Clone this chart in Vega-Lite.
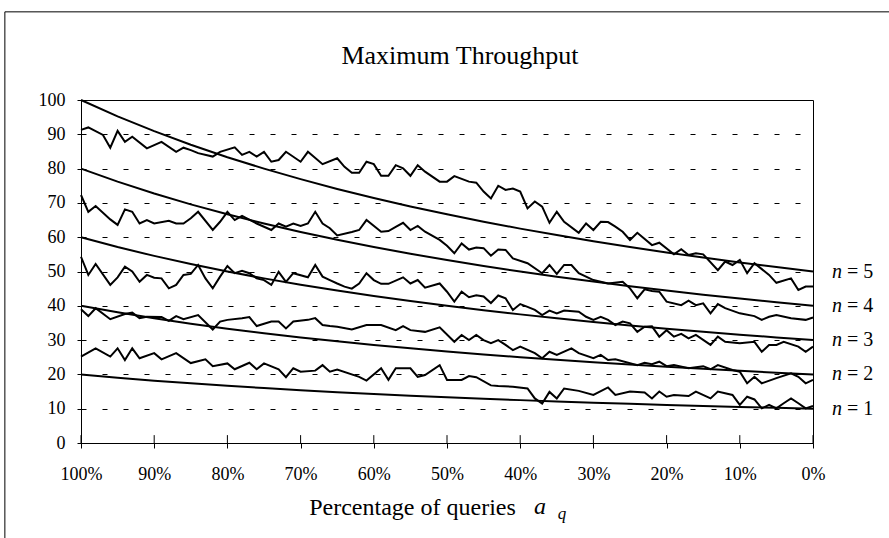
{
  "$schema": "https://vega.github.io/schema/vega-lite/v6.json",
  "width": 732,
  "height": 343,
  "autosize": {"type": "none"},
  "padding": {"left": 81, "top": 100, "right": 76, "bottom": 95},
  "background": "white",
  "config": {
    "font": "Liberation Serif",
    "view": {"stroke": "black", "strokeWidth": 1},
    "axis": {"domainColor": "black", "tickColor": "black", "labelColor": "black", "titleColor": "black", "labelFont": "Liberation Serif", "titleFont": "Liberation Serif", "domainWidth": 1, "tickWidth": 1, "labelFontSize": 18, "labelFlush": false, "labelOverlap": false},
    "axisX": {"grid": false, "tickSize": 5, "labelPadding": 17, "titleFontSize": 24, "titleFontWeight": "normal", "titleX": 331, "titleY": 71, "titleBaseline": "alphabetic", "titleAlign": "center"},
    "axisY": {"grid": true, "gridDash": [5, 16], "gridColor": "black", "gridWidth": 1, "gridOpacity": 1, "tickSize": 4, "labelPadding": 12}
  },
  "title": {"text": "Maximum Throughput", "font": "Liberation Serif", "fontSize": 26, "fontWeight": "normal", "color": "black", "anchor": "middle", "baseline": "alphabetic", "offset": -51, "dx": 13, "dy": 28},
  "datasets": {
    "smooth": [
      {"n":1,"p":100,"v":20},{"n":1,"p":95,"v":19.05},{"n":1,"p":90,"v":18.18},{"n":1,"p":85,"v":17.39},{"n":1,"p":80,"v":16.67},{"n":1,"p":75,"v":16},{"n":1,"p":70,"v":15.38},{"n":1,"p":65,"v":14.81},{"n":1,"p":60,"v":14.29},{"n":1,"p":55,"v":13.79},{"n":1,"p":50,"v":13.33},{"n":1,"p":45,"v":12.9},{"n":1,"p":40,"v":12.5},{"n":1,"p":35,"v":12.12},{"n":1,"p":30,"v":11.76},{"n":1,"p":25,"v":11.43},{"n":1,"p":20,"v":11.11},{"n":1,"p":15,"v":10.81},{"n":1,"p":10,"v":10.53},{"n":1,"p":5,"v":10.26},{"n":1,"p":0,"v":10},
      {"n":2,"p":100,"v":40},{"n":2,"p":95,"v":38.1},{"n":2,"p":90,"v":36.36},{"n":2,"p":85,"v":34.78},{"n":2,"p":80,"v":33.33},{"n":2,"p":75,"v":32},{"n":2,"p":70,"v":30.77},{"n":2,"p":65,"v":29.63},{"n":2,"p":60,"v":28.57},{"n":2,"p":55,"v":27.59},{"n":2,"p":50,"v":26.67},{"n":2,"p":45,"v":25.81},{"n":2,"p":40,"v":25},{"n":2,"p":35,"v":24.24},{"n":2,"p":30,"v":23.53},{"n":2,"p":25,"v":22.86},{"n":2,"p":20,"v":22.22},{"n":2,"p":15,"v":21.62},{"n":2,"p":10,"v":21.05},{"n":2,"p":5,"v":20.51},{"n":2,"p":0,"v":20},
      {"n":3,"p":100,"v":60},{"n":3,"p":95,"v":57.14},{"n":3,"p":90,"v":54.55},{"n":3,"p":85,"v":52.17},{"n":3,"p":80,"v":50},{"n":3,"p":75,"v":48},{"n":3,"p":70,"v":46.15},{"n":3,"p":65,"v":44.44},{"n":3,"p":60,"v":42.86},{"n":3,"p":55,"v":41.38},{"n":3,"p":50,"v":40},{"n":3,"p":45,"v":38.71},{"n":3,"p":40,"v":37.5},{"n":3,"p":35,"v":36.36},{"n":3,"p":30,"v":35.29},{"n":3,"p":25,"v":34.29},{"n":3,"p":20,"v":33.33},{"n":3,"p":15,"v":32.43},{"n":3,"p":10,"v":31.58},{"n":3,"p":5,"v":30.77},{"n":3,"p":0,"v":30},
      {"n":4,"p":100,"v":80},{"n":4,"p":95,"v":76.19},{"n":4,"p":90,"v":72.73},{"n":4,"p":85,"v":69.57},{"n":4,"p":80,"v":66.67},{"n":4,"p":75,"v":64},{"n":4,"p":70,"v":61.54},{"n":4,"p":65,"v":59.26},{"n":4,"p":60,"v":57.14},{"n":4,"p":55,"v":55.17},{"n":4,"p":50,"v":53.33},{"n":4,"p":45,"v":51.61},{"n":4,"p":40,"v":50},{"n":4,"p":35,"v":48.48},{"n":4,"p":30,"v":47.06},{"n":4,"p":25,"v":45.71},{"n":4,"p":20,"v":44.44},{"n":4,"p":15,"v":43.24},{"n":4,"p":10,"v":42.11},{"n":4,"p":5,"v":41.03},{"n":4,"p":0,"v":40},
      {"n":5,"p":100,"v":100},{"n":5,"p":95,"v":95.24},{"n":5,"p":90,"v":90.91},{"n":5,"p":85,"v":86.96},{"n":5,"p":80,"v":83.33},{"n":5,"p":75,"v":80},{"n":5,"p":70,"v":76.92},{"n":5,"p":65,"v":74.07},{"n":5,"p":60,"v":71.43},{"n":5,"p":55,"v":68.97},{"n":5,"p":50,"v":66.67},{"n":5,"p":45,"v":64.52},{"n":5,"p":40,"v":62.5},{"n":5,"p":35,"v":60.61},{"n":5,"p":30,"v":58.82},{"n":5,"p":25,"v":57.14},{"n":5,"p":20,"v":55.56},{"n":5,"p":15,"v":54.05},{"n":5,"p":10,"v":52.63},{"n":5,"p":5,"v":51.28},{"n":5,"p":0,"v":50}
    ],
    "noisy": [
      {"n":5,"p":100,"v":91.3},{"n":5,"p":99,"v":92},{"n":5,"p":97,"v":89.8},{"n":5,"p":96,"v":86.1},{"n":5,"p":95,"v":91},{"n":5,"p":94,"v":87.8},{"n":5,"p":93,"v":89.3},{"n":5,"p":91,"v":85.9},{"n":5,"p":89,"v":87.8},{"n":5,"p":87,"v":84.9},{"n":5,"p":86,"v":86.1},{"n":5,"p":85,"v":85.4},{"n":5,"p":84,"v":84.5},{"n":5,"p":82,"v":83.5},{"n":5,"p":81,"v":84.9},{"n":5,"p":79,"v":86.2},{"n":5,"p":78,"v":84},{"n":5,"p":77,"v":84.9},{"n":5,"p":76,"v":83.5},{"n":5,"p":75,"v":84.9},{"n":5,"p":74,"v":82},{"n":5,"p":73,"v":82.5},{"n":5,"p":72,"v":84.9},{"n":5,"p":70,"v":82},{"n":5,"p":69,"v":84.9},{"n":5,"p":67,"v":81.3},{"n":5,"p":65,"v":83},{"n":5,"p":64,"v":80.5},{"n":5,"p":63,"v":78.8},{"n":5,"p":62,"v":78.8},{"n":5,"p":61,"v":82},{"n":5,"p":60,"v":81.3},{"n":5,"p":59,"v":77.9},{"n":5,"p":58,"v":77.9},{"n":5,"p":57,"v":81},{"n":5,"p":56,"v":80.1},{"n":5,"p":55,"v":77.9},{"n":5,"p":54,"v":81},{"n":5,"p":53,"v":79.1},{"n":5,"p":51,"v":76.2},{"n":5,"p":50,"v":76.2},{"n":5,"p":49,"v":77.8},{"n":5,"p":47,"v":76.2},{"n":5,"p":46,"v":75.9},{"n":5,"p":45,"v":73.3},{"n":5,"p":44,"v":71.3},{"n":5,"p":43,"v":75},{"n":5,"p":42,"v":73.8},{"n":5,"p":41,"v":74.2},{"n":5,"p":40,"v":73.3},{"n":5,"p":39,"v":68.4},{"n":5,"p":38,"v":70.4},{"n":5,"p":37,"v":68.9},{"n":5,"p":36,"v":64.2},{"n":5,"p":35,"v":67.4},{"n":5,"p":34,"v":64.5},{"n":5,"p":32,"v":61.3},{"n":5,"p":31,"v":64},{"n":5,"p":30,"v":62.1},{"n":5,"p":29,"v":64.5},{"n":5,"p":28,"v":64.4},{"n":5,"p":27,"v":63.1},{"n":5,"p":26,"v":61.6},{"n":5,"p":25,"v":59.2},{"n":5,"p":24,"v":61.3},{"n":5,"p":22,"v":57.7},{"n":5,"p":21,"v":58.4},{"n":5,"p":19,"v":55},{"n":5,"p":18,"v":56.5},{"n":5,"p":17,"v":54.8},{"n":5,"p":16,"v":55.3},{"n":5,"p":15,"v":55},{"n":5,"p":13,"v":50.4},{"n":5,"p":12,"v":52.9},{"n":5,"p":11,"v":51.9},{"n":5,"p":10,"v":53.4},{"n":5,"p":9,"v":49.5},{"n":5,"p":8,"v":52.4},{"n":5,"p":6,"v":49},{"n":5,"p":5,"v":46.7},{"n":5,"p":3,"v":48},{"n":5,"p":2,"v":44.6},{"n":5,"p":1,"v":45.6},{"n":5,"p":0,"v":45.6},
      {"n":4,"p":100,"v":72.3},{"n":4,"p":99,"v":67.4},{"n":4,"p":98,"v":69.1},{"n":4,"p":96,"v":65.2},{"n":4,"p":95,"v":63.6},{"n":4,"p":94,"v":68.1},{"n":4,"p":93,"v":67.4},{"n":4,"p":92,"v":64},{"n":4,"p":91,"v":65},{"n":4,"p":90,"v":64},{"n":4,"p":88,"v":64.8},{"n":4,"p":87,"v":64},{"n":4,"p":86,"v":64},{"n":4,"p":85,"v":65.5},{"n":4,"p":84,"v":67.4},{"n":4,"p":82,"v":62.1},{"n":4,"p":81,"v":64.5},{"n":4,"p":80,"v":67.4},{"n":4,"p":79,"v":65},{"n":4,"p":78,"v":66.2},{"n":4,"p":76,"v":64},{"n":4,"p":74,"v":62.1},{"n":4,"p":73,"v":64},{"n":4,"p":72,"v":63.1},{"n":4,"p":71,"v":64},{"n":4,"p":70,"v":63.3},{"n":4,"p":69,"v":64},{"n":4,"p":68,"v":67.4},{"n":4,"p":67,"v":64},{"n":4,"p":66,"v":62.6},{"n":4,"p":65,"v":60.5},{"n":4,"p":63,"v":61.5},{"n":4,"p":62,"v":62.1},{"n":4,"p":61,"v":65},{"n":4,"p":59,"v":61.6},{"n":4,"p":58,"v":61.8},{"n":4,"p":57,"v":63},{"n":4,"p":56,"v":64.2},{"n":4,"p":55,"v":62.1},{"n":4,"p":54,"v":63.3},{"n":4,"p":53,"v":61.6},{"n":4,"p":51,"v":59.2},{"n":4,"p":50,"v":57.5},{"n":4,"p":49,"v":55.3},{"n":4,"p":48,"v":58.2},{"n":4,"p":47,"v":56.4},{"n":4,"p":46,"v":57},{"n":4,"p":45,"v":56.8},{"n":4,"p":44,"v":54.6},{"n":4,"p":43,"v":56.4},{"n":4,"p":42,"v":56.3},{"n":4,"p":41,"v":53.8},{"n":4,"p":39,"v":52.4},{"n":4,"p":37,"v":49.5},{"n":4,"p":36,"v":51.9},{"n":4,"p":35,"v":49.3},{"n":4,"p":34,"v":51.9},{"n":4,"p":33,"v":51.9},{"n":4,"p":32,"v":49.5},{"n":4,"p":30,"v":47.5},{"n":4,"p":28,"v":46.5},{"n":4,"p":26,"v":47},{"n":4,"p":25,"v":45.1},{"n":4,"p":24,"v":42.2},{"n":4,"p":23,"v":44.8},{"n":4,"p":22,"v":44.3},{"n":4,"p":21,"v":44.1},{"n":4,"p":20,"v":41.2},{"n":4,"p":18,"v":40.2},{"n":4,"p":17,"v":41.5},{"n":4,"p":16,"v":40.2},{"n":4,"p":15,"v":40.7},{"n":4,"p":14,"v":37.8},{"n":4,"p":13,"v":40.5},{"n":4,"p":12,"v":39.3},{"n":4,"p":10,"v":37.8},{"n":4,"p":8,"v":37},{"n":4,"p":7,"v":35.9},{"n":4,"p":6,"v":36.8},{"n":4,"p":5,"v":37.3},{"n":4,"p":3,"v":36.4},{"n":4,"p":1,"v":35.9},{"n":4,"p":0,"v":36.6},
      {"n":3,"p":100,"v":54.3},{"n":3,"p":99,"v":49},{"n":3,"p":98,"v":52.2},{"n":3,"p":96,"v":46.1},{"n":3,"p":95,"v":48.3},{"n":3,"p":94,"v":51.4},{"n":3,"p":93,"v":50},{"n":3,"p":92,"v":47},{"n":3,"p":91,"v":49},{"n":3,"p":90,"v":48.2},{"n":3,"p":89,"v":48},{"n":3,"p":88,"v":45.1},{"n":3,"p":87,"v":46.1},{"n":3,"p":86,"v":49},{"n":3,"p":85,"v":49.3},{"n":3,"p":84,"v":51.9},{"n":3,"p":83,"v":48},{"n":3,"p":82,"v":45.1},{"n":3,"p":81,"v":48.5},{"n":3,"p":80,"v":51.6},{"n":3,"p":79,"v":49.5},{"n":3,"p":78,"v":50.2},{"n":3,"p":77,"v":49.5},{"n":3,"p":76,"v":48},{"n":3,"p":75,"v":47.5},{"n":3,"p":74,"v":46.1},{"n":3,"p":73,"v":49.9},{"n":3,"p":72,"v":47},{"n":3,"p":71,"v":49.5},{"n":3,"p":69,"v":48.3},{"n":3,"p":68,"v":51.9},{"n":3,"p":67,"v":48.5},{"n":3,"p":66,"v":47.5},{"n":3,"p":65,"v":46.5},{"n":3,"p":64,"v":45.6},{"n":3,"p":63,"v":45},{"n":3,"p":62,"v":46.5},{"n":3,"p":61,"v":49.5},{"n":3,"p":60,"v":47.5},{"n":3,"p":59,"v":46.4},{"n":3,"p":58,"v":46.4},{"n":3,"p":56,"v":48.3},{"n":3,"p":55,"v":46.5},{"n":3,"p":54,"v":47.5},{"n":3,"p":53,"v":45.3},{"n":3,"p":51,"v":46.5},{"n":3,"p":50,"v":44.1},{"n":3,"p":49,"v":41.2},{"n":3,"p":48,"v":44.1},{"n":3,"p":47,"v":42.5},{"n":3,"p":46,"v":43.1},{"n":3,"p":45,"v":42.7},{"n":3,"p":44,"v":40.8},{"n":3,"p":43,"v":43},{"n":3,"p":42,"v":42.2},{"n":3,"p":41,"v":38.8},{"n":3,"p":40,"v":40.5},{"n":3,"p":39,"v":39.7},{"n":3,"p":38,"v":38.8},{"n":3,"p":37,"v":37.3},{"n":3,"p":36,"v":38.6},{"n":3,"p":35,"v":37.8},{"n":3,"p":34,"v":38.6},{"n":3,"p":32,"v":38.3},{"n":3,"p":31,"v":36.8},{"n":3,"p":30,"v":35.9},{"n":3,"p":29,"v":36.8},{"n":3,"p":28,"v":35.9},{"n":3,"p":27,"v":34.4},{"n":3,"p":26,"v":35.4},{"n":3,"p":25,"v":34.9},{"n":3,"p":24,"v":32.4},{"n":3,"p":23,"v":33.9},{"n":3,"p":22,"v":34},{"n":3,"p":21,"v":31},{"n":3,"p":20,"v":32.9},{"n":3,"p":19,"v":31},{"n":3,"p":18,"v":31.8},{"n":3,"p":17,"v":30.5},{"n":3,"p":16,"v":31.5},{"n":3,"p":14,"v":28.6},{"n":3,"p":13,"v":31},{"n":3,"p":12,"v":29.5},{"n":3,"p":10,"v":29.1},{"n":3,"p":8,"v":29.5},{"n":3,"p":7,"v":26.6},{"n":3,"p":6,"v":28.6},{"n":3,"p":5,"v":28.6},{"n":3,"p":4,"v":29.5},{"n":3,"p":2,"v":28.1},{"n":3,"p":1,"v":26.6},{"n":3,"p":0,"v":28.1},
      {"n":2,"p":100,"v":39},{"n":2,"p":99,"v":37},{"n":2,"p":98,"v":39.3},{"n":2,"p":96,"v":36.1},{"n":2,"p":94,"v":37.6},{"n":2,"p":93,"v":38},{"n":2,"p":92,"v":36.4},{"n":2,"p":91,"v":36.8},{"n":2,"p":89,"v":36.7},{"n":2,"p":88,"v":35.6},{"n":2,"p":87,"v":37},{"n":2,"p":86,"v":36.1},{"n":2,"p":84,"v":37.3},{"n":2,"p":82,"v":33.1},{"n":2,"p":81,"v":35.4},{"n":2,"p":80,"v":35.9},{"n":2,"p":78,"v":36.4},{"n":2,"p":77,"v":36.7},{"n":2,"p":76,"v":34.1},{"n":2,"p":74,"v":35.4},{"n":2,"p":73,"v":35.4},{"n":2,"p":72,"v":33.4},{"n":2,"p":71,"v":35.4},{"n":2,"p":69,"v":35.9},{"n":2,"p":68,"v":36.4},{"n":2,"p":67,"v":34.4},{"n":2,"p":66,"v":34.1},{"n":2,"p":65,"v":33.9},{"n":2,"p":63,"v":33.1},{"n":2,"p":61,"v":34.4},{"n":2,"p":59,"v":34.4},{"n":2,"p":57,"v":32.9},{"n":2,"p":56,"v":34.1},{"n":2,"p":55,"v":32.9},{"n":2,"p":53,"v":32.4},{"n":2,"p":51,"v":33.7},{"n":2,"p":49,"v":29.5},{"n":2,"p":48,"v":31.5},{"n":2,"p":47,"v":30},{"n":2,"p":46,"v":31.5},{"n":2,"p":45,"v":30},{"n":2,"p":44,"v":29.1},{"n":2,"p":43,"v":30},{"n":2,"p":42,"v":28.6},{"n":2,"p":41,"v":27.1},{"n":2,"p":40,"v":28.1},{"n":2,"p":38,"v":26.2},{"n":2,"p":37,"v":24.7},{"n":2,"p":36,"v":26.6},{"n":2,"p":35,"v":25.7},{"n":2,"p":33,"v":27.6},{"n":2,"p":32,"v":26.2},{"n":2,"p":30,"v":24.7},{"n":2,"p":29,"v":25.7},{"n":2,"p":28,"v":24.2},{"n":2,"p":27,"v":24.4},{"n":2,"p":24,"v":22.7},{"n":2,"p":23,"v":23.4},{"n":2,"p":22,"v":23},{"n":2,"p":21,"v":23.7},{"n":2,"p":20,"v":22.4},{"n":2,"p":19,"v":22.7},{"n":2,"p":17,"v":21.8},{"n":2,"p":15,"v":22.4},{"n":2,"p":14,"v":21.5},{"n":2,"p":13,"v":22.7},{"n":2,"p":11,"v":21.3},{"n":2,"p":10,"v":20.8},{"n":2,"p":9,"v":17.4},{"n":2,"p":8,"v":19.3},{"n":2,"p":7,"v":17.4},{"n":2,"p":5,"v":18.9},{"n":2,"p":3,"v":20.3},{"n":2,"p":2,"v":19.3},{"n":2,"p":1,"v":17.4},{"n":2,"p":0,"v":18.4},
      {"n":1,"p":100,"v":25.2},{"n":1,"p":98,"v":27.6},{"n":1,"p":96,"v":25.2},{"n":1,"p":95,"v":27.6},{"n":1,"p":94,"v":24.2},{"n":1,"p":93,"v":27.6},{"n":1,"p":92,"v":24.7},{"n":1,"p":90,"v":26.2},{"n":1,"p":89,"v":24.4},{"n":1,"p":87,"v":26.2},{"n":1,"p":85,"v":23.3},{"n":1,"p":83,"v":24.4},{"n":1,"p":82,"v":22.4},{"n":1,"p":80,"v":23.2},{"n":1,"p":79,"v":21.5},{"n":1,"p":77,"v":23.4},{"n":1,"p":76,"v":21.5},{"n":1,"p":75,"v":23.2},{"n":1,"p":73,"v":21.5},{"n":1,"p":72,"v":19.2},{"n":1,"p":71,"v":21.8},{"n":1,"p":70,"v":20.8},{"n":1,"p":68,"v":21.1},{"n":1,"p":67,"v":22.7},{"n":1,"p":66,"v":20.8},{"n":1,"p":65,"v":21.4},{"n":1,"p":62,"v":19.3},{"n":1,"p":61,"v":18.2},{"n":1,"p":59,"v":21.8},{"n":1,"p":58,"v":18.4},{"n":1,"p":57,"v":21.8},{"n":1,"p":55,"v":21.8},{"n":1,"p":54,"v":19.3},{"n":1,"p":53,"v":19.8},{"n":1,"p":51,"v":22.7},{"n":1,"p":50,"v":18.4},{"n":1,"p":48,"v":18.4},{"n":1,"p":47,"v":19.5},{"n":1,"p":46,"v":19.2},{"n":1,"p":44,"v":16.8},{"n":1,"p":43,"v":16.6},{"n":1,"p":41,"v":16.4},{"n":1,"p":39,"v":15.9},{"n":1,"p":38,"v":13},{"n":1,"p":37,"v":11.5},{"n":1,"p":36,"v":14.9},{"n":1,"p":35,"v":13},{"n":1,"p":34,"v":15.9},{"n":1,"p":32,"v":15.2},{"n":1,"p":30,"v":14},{"n":1,"p":28,"v":16.2},{"n":1,"p":27,"v":14},{"n":1,"p":25,"v":15},{"n":1,"p":23,"v":14.7},{"n":1,"p":22,"v":13},{"n":1,"p":21,"v":15},{"n":1,"p":20,"v":13.5},{"n":1,"p":19,"v":14},{"n":1,"p":17,"v":13.7},{"n":1,"p":16,"v":15},{"n":1,"p":14,"v":13},{"n":1,"p":13,"v":15},{"n":1,"p":11,"v":14},{"n":1,"p":10,"v":11.1},{"n":1,"p":9,"v":13.5},{"n":1,"p":8,"v":12.7},{"n":1,"p":7,"v":10.1},{"n":1,"p":6,"v":11.1},{"n":1,"p":5,"v":10.1},{"n":1,"p":4,"v":11.6},{"n":1,"p":3,"v":13},{"n":1,"p":2,"v":11.6},{"n":1,"p":1,"v":10.1},{"n":1,"p":0,"v":10.8}
    ],
    "ticks": [{"p":100},{"p":90},{"p":80},{"p":70},{"p":60},{"p":50},{"p":40},{"p":30},{"p":20},{"p":10},{"p":0}],
    "labels": [
      {"n":5,"p":0,"v":50,"eq":"= 5"},{"n":4,"p":0,"v":40,"eq":"= 4"},{"n":3,"p":0,"v":30,"eq":"= 3"},{"n":2,"p":0,"v":20,"eq":"= 2"},{"n":1,"p":0,"v":10,"eq":"= 1"}
    ],
    "note": [{"a":"a","q":"q"}]
  },
  "layer": [
    {
      "data": {"name": "noisy"},
      "mark": {"type": "line", "color": "black", "strokeWidth": 2},
      "encoding": {
        "x": {"field": "p", "type": "quantitative", "scale": {"domain": [100, 0], "nice": false, "zero": false},
          "axis": {"values": [100, 90, 80, 70, 60, 50, 40, 30, 20, 10, 0], "labelExpr": "datum.value + '%'", "labelOverlap": false, "title": "Percentage of queries"}},
        "y": {"field": "v", "type": "quantitative", "scale": {"domain": [0, 100], "nice": false},
          "axis": {"values": [0, 10, 20, 30, 40, 50, 60, 70, 80, 90, 100], "labelOverlap": false, "title": ""}},
        "detail": {"field": "n", "type": "nominal"}
      }
    },
    {
      "data": {"name": "smooth"},
      "mark": {"type": "line", "color": "black", "strokeWidth": 2},
      "encoding": {
        "x": {"field": "p", "type": "quantitative",
          "axis": {"values": [100, 90, 80, 70, 60, 50, 40, 30, 20, 10, 0], "labelExpr": "datum.value + '%'", "labelOverlap": false, "title": "Percentage of queries"}},
        "y": {"field": "v", "type": "quantitative",
          "axis": {"values": [0, 10, 20, 30, 40, 50, 60, 70, 80, 90, 100], "labelOverlap": false, "title": ""}},
        "detail": {"field": "n", "type": "nominal"}
      }
    },
    {
      "data": {"name": "ticks"},
      "mark": {"type": "rule", "color": "black", "strokeWidth": 1},
      "encoding": {
        "x": {"field": "p", "type": "quantitative",
          "axis": {"values": [100, 90, 80, 70, 60, 50, 40, 30, 20, 10, 0], "labelExpr": "datum.value + '%'", "labelOverlap": false, "title": "Percentage of queries"}},
        "y": {"datum": 0,
          "axis": {"values": [0, 10, 20, 30, 40, 50, 60, 70, 80, 90, 100], "labelOverlap": false, "title": ""}},
        "y2": {"datum": 2.3}
      }
    },
    {
      "data": {"name": "labels"},
      "mark": {"type": "text", "text": "n", "font": "Liberation Serif", "fontStyle": "italic", "fontSize": 20, "align": "left", "baseline": "middle", "dx": 19, "color": "black"},
      "encoding": {
        "x": {"field": "p", "type": "quantitative",
          "axis": {"values": [100, 90, 80, 70, 60, 50, 40, 30, 20, 10, 0], "labelExpr": "datum.value + '%'", "labelOverlap": false, "title": "Percentage of queries"}},
        "y": {"field": "v", "type": "quantitative",
          "axis": {"values": [0, 10, 20, 30, 40, 50, 60, 70, 80, 90, 100], "labelOverlap": false, "title": ""}}
      }
    },
    {
      "data": {"name": "labels"},
      "mark": {"type": "text", "font": "Liberation Serif", "fontSize": 20, "align": "left", "baseline": "middle", "dx": 34, "color": "black"},
      "encoding": {
        "x": {"field": "p", "type": "quantitative",
          "axis": {"values": [100, 90, 80, 70, 60, 50, 40, 30, 20, 10, 0], "labelExpr": "datum.value + '%'", "labelOverlap": false, "title": "Percentage of queries"}},
        "y": {"field": "v", "type": "quantitative",
          "axis": {"values": [0, 10, 20, 30, 40, 50, 60, 70, 80, 90, 100], "labelOverlap": false, "title": ""}},
        "text": {"field": "eq"}
      }
    },
    {
      "data": {"name": "note"},
      "mark": {"type": "text", "font": "Liberation Serif", "fontStyle": "italic", "fontSize": 24, "align": "center", "baseline": "alphabetic", "color": "black"},
      "encoding": {
        "x": {"datum": 37.3,
          "axis": {"values": [100, 90, 80, 70, 60, 50, 40, 30, 20, 10, 0], "labelExpr": "datum.value + '%'", "labelOverlap": false, "title": "Percentage of queries"}},
        "y": {"datum": -20.7,
          "axis": {"values": [0, 10, 20, 30, 40, 50, 60, 70, 80, 90, 100], "labelOverlap": false, "title": ""}},
        "text": {"field": "a"}
      }
    },
    {
      "data": {"name": "note"},
      "mark": {"type": "text", "font": "Liberation Serif", "fontStyle": "italic", "fontSize": 17, "align": "center", "baseline": "alphabetic", "color": "black"},
      "encoding": {
        "x": {"datum": 34.3,
          "axis": {"values": [100, 90, 80, 70, 60, 50, 40, 30, 20, 10, 0], "labelExpr": "datum.value + '%'", "labelOverlap": false, "title": "Percentage of queries"}},
        "y": {"datum": -22.2,
          "axis": {"values": [0, 10, 20, 30, 40, 50, 60, 70, 80, 90, 100], "labelOverlap": false, "title": ""}},
        "text": {"field": "q"}
      }
    },
    {
      "data": {"name": "note"},
      "mark": {"type": "rule", "color": "black", "strokeWidth": 1},
      "encoding": {
        "x": {"datum": 110.4,
          "axis": {"values": [100, 90, 80, 70, 60, 50, 40, 30, 20, 10, 0], "labelExpr": "datum.value + '%'", "labelOverlap": false, "title": "Percentage of queries"}},
        "x2": {"datum": -11},
        "y": {"datum": 125.7,
          "axis": {"values": [0, 10, 20, 30, 40, 50, 60, 70, 80, 90, 100], "labelOverlap": false, "title": ""}}
      }
    },
    {
      "data": {"name": "note"},
      "mark": {"type": "rule", "color": "black", "strokeWidth": 1},
      "encoding": {
        "x": {"datum": 110.4,
          "axis": {"values": [100, 90, 80, 70, 60, 50, 40, 30, 20, 10, 0], "labelExpr": "datum.value + '%'", "labelOverlap": false, "title": "Percentage of queries"}},
        "y": {"datum": 125.7,
          "axis": {"values": [0, 10, 20, 30, 40, 50, 60, 70, 80, 90, 100], "labelOverlap": false, "title": ""}},
        "y2": {"datum": -28.5}
      }
    }
  ]
}
